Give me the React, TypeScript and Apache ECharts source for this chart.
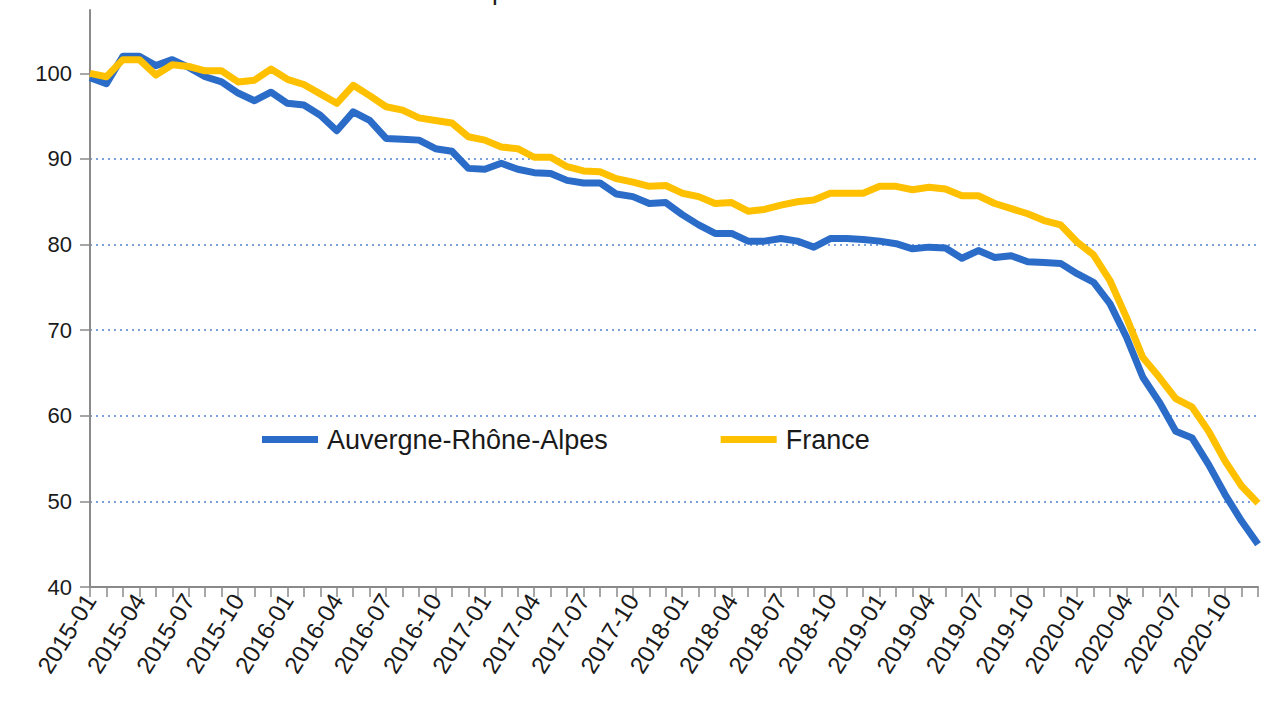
import React, { useEffect, useRef } from "react";
import * as echarts from "echarts";

const months: string[] = [];
for (let y = 2015; y <= 2020; y++) {
  for (let m = 1; m <= 12; m++) months.push(`${y}-${m < 10 ? "0" + m : m}`);
}

const seriesNames = ["Auvergne-Rhône-Alpes", "France"];

const araValues = [
  99.5, 98.8, 102.0, 102.0, 100.9, 101.6, 100.7, 99.6, 99.0, 97.7, 96.8, 97.8,
  96.5, 96.3, 95.1, 93.3, 95.5, 94.5, 92.4, 92.3, 92.2, 91.2, 90.9, 88.9,
  88.8, 89.5, 88.8, 88.4, 88.3, 87.5, 87.2, 87.2, 85.9, 85.6, 84.8, 84.9,
  83.5, 82.3, 81.3, 81.3, 80.4, 80.4, 80.7, 80.4, 79.7, 80.7, 80.7, 80.6,
  80.4, 80.1, 79.5, 79.7, 79.6, 78.4, 79.3, 78.5, 78.7, 78.0, 77.9, 77.8,
  76.6, 75.6, 73.1, 69.2, 64.5, 61.6, 58.2, 57.4, 54.3, 50.8, 47.7, 45.0,
];

const franceValues = [
  100.0, 99.6, 101.6, 101.6, 99.8, 101.0, 100.8, 100.3, 100.3, 99.0, 99.2, 100.5,
  99.3, 98.7, 97.6, 96.5, 98.6, 97.4, 96.1, 95.7, 94.8, 94.5, 94.2, 92.6,
  92.2, 91.4, 91.2, 90.2, 90.2, 89.1, 88.6, 88.5, 87.7, 87.3, 86.8, 86.9,
  86.0, 85.6, 84.8, 84.9, 83.9, 84.1, 84.6, 85.0, 85.2, 86.0, 86.0, 86.0,
  86.8, 86.8, 86.4, 86.7, 86.5, 85.7, 85.7, 84.8, 84.2, 83.6, 82.8, 82.3,
  80.3, 78.8, 75.8, 71.5, 66.8, 64.5, 62.0, 61.0, 58.2, 54.7, 51.8, 49.8,
];

const yTicks = [40, 50, 60, 70, 80, 90, 100];

const BLUE = "#2b6cc8";
const YELLOW = "#ffc000";
const FONT = "'Liberation Sans', Arial, sans-serif";

export default function App() {
  const ref = useRef<HTMLDivElement>(null);
  useEffect(() => {
    if (!ref.current) return;
    const chart = echarts.init(ref.current, null, { renderer: "svg" });
    chart.setOption({
      animation: false,
      backgroundColor: "#ffffff",
      grid: { left: 90, right: 3, top: 10, bottom: 115 },
      legend: {
        left: 262,
        top: 426,
        padding: 0,
        icon: "rect",
        itemWidth: 56,
        itemHeight: 7,
        itemGap: 113,
        data: seriesNames,
        textStyle: { fontFamily: FONT, fontSize: 27, color: "#1a1a1a", padding: [0, 0, 0, 4] },
      },
      graphic: [
        {
          type: "text",
          left: 492,
          top: -22,
          style: { text: "p", fontSize: 26, fontFamily: FONT, fill: "#1a1a1a" },
        },
      ],
      xAxis: {
        type: "category",
        data: months,
        boundaryGap: false,
        axisLine: { lineStyle: { color: "#8a8a8a", width: 2 } },
        axisTick: { show: true, interval: 0, length: 10, lineStyle: { color: "#8a8a8a", width: 1.5 } },
        axisLabel: {
          interval: 2,
          rotate: 58,
          fontFamily: FONT,
          fontSize: 24,
          color: "#1a1a1a",
          margin: 9,
        },
        splitLine: { show: false },
      },
      yAxis: {
        type: "value",
        min: 40,
        max: 107.4,
        interval: 10,
        axisLine: { show: true, lineStyle: { color: "#8a8a8a", width: 2 } },
        axisTick: { show: true, length: 10, customValues: yTicks, lineStyle: { color: "#8a8a8a", width: 1.5 } },
        axisLabel: {
          customValues: yTicks,
          fontFamily: FONT,
          fontSize: 22,
          color: "#1a1a1a",
          margin: 18,
          formatter: (v: number) => (v % 10 === 0 ? String(v) : ""),
        },
        splitLine: {
          show: true,
          showMinLine: false,
          showMaxLine: false,
          lineStyle: { color: "#4f83d4", type: [2, 4], width: 1.5 },
        },
      },
      series: [
        {
          name: seriesNames[0],
          type: "line",
          data: araValues,
          showSymbol: false,
          symbol: "none",
          color: BLUE,
          lineStyle: { color: BLUE, width: 7, join: "round" },
        },
        {
          name: seriesNames[1],
          type: "line",
          data: franceValues,
          showSymbol: false,
          symbol: "none",
          color: YELLOW,
          lineStyle: { color: YELLOW, width: 7, join: "round" },
        },
      ],
    });
    return () => chart.dispose();
  }, []);
  return (
    <div
      ref={ref}
      style={{ position: "fixed", left: 0, top: 0, width: 1261, height: 702, background: "#fff" }}
    />
  );
}
